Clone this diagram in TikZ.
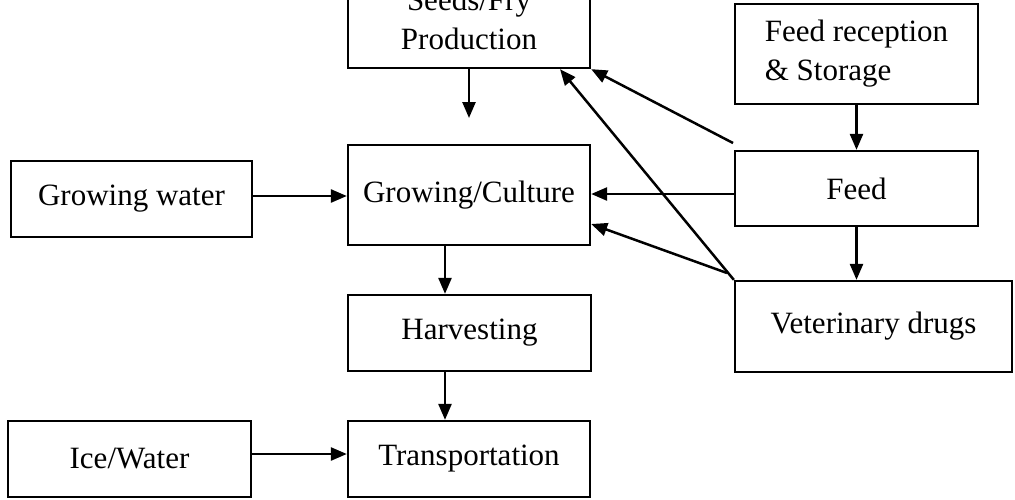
\documentclass[tikz,border=0pt]{standalone}
\usepackage{fontspec}
\setmainfont{Liberation Serif}
\usetikzlibrary{arrows.meta}
\begin{document}
\begin{tikzpicture}[x=1pt,y=-1pt,
  box/.style={draw=black, line width=2.3pt, inner sep=0pt, align=center,
    font=\fontsize{31}{39}\selectfont},
  arr/.style={line width=2.5pt, -{Triangle[length=16pt,width=13pt]}}]
\useasboundingbox (0,0) rectangle (1015,499);
\node[box, minimum width=242pt, minimum height=98pt] (seeds) at (469,19) {Seeds/Fry\\Production};
\node[box, minimum width=243pt, minimum height=100pt, align=left] (feedrec) at (856.5,54) {Feed reception\\\& Storage};
\node[box, minimum width=241pt, minimum height=76pt] (gw) at (131.5,199) {Growing water};
\node[box, minimum width=242pt, minimum height=100pt] (gc) at (469,195) {Growing/Culture};
\node[box, minimum width=243pt, minimum height=75pt] (feed) at (856.5,188.5) {Feed};
\node[box, minimum width=243pt, minimum height=76pt] (harv) at (469.5,333) {Harvesting};
\node[box, minimum width=277pt, minimum height=91pt] (vet) at (873.5,326.5) {Veterinary drugs};
\node[box, minimum width=243pt, minimum height=76pt] (ice) at (129.5,459) {Ice/Water};
\node[box, minimum width=242pt, minimum height=76pt] (trans) at (469,459) {Transportation};
\coordinate (s1) at (469,118);
\coordinate (c1) at (733,143);
\coordinate (c2) at (727,273);
\draw[arr] (seeds.south) -- (s1);
\draw[arr] (feedrec.south) -- (feed.north);
\draw[arr] (gw.east |- 0,196) -- (gc.west |- 0,196);
\draw[arr] (feed.west |- 0,194) -- (gc.east |- 0,194);
\draw[arr] (c1) -- (seeds.south east);
\draw[arr] (vet.north west) -- (seeds.south -| 560,0);
\draw[arr] (c2) -- (gc.east |- 0,224);
\draw[arr] (feed.south) -- (feed.south |- vet.north);
\draw[arr] (gc.south -| 445,0) -- (harv.north -| 445,0);
\draw[arr] (harv.south -| 445,0) -- (trans.north -| 445,0);
\draw[arr] (ice.east |- 0,454) -- (trans.west |- 0,454);
\end{tikzpicture}
\end{document}
